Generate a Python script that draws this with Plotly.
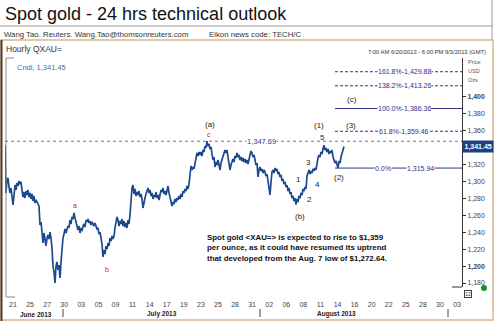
import plotly.graph_objects as go

# ---------------- data ----------------
# hourly spot gold, sampled along the chart (one value per sample step)
price = [
    1343.2, 1286.5, 1302.0, 1304.2, 1293.6, 1286.5, 1292.4, 1278.2, 1272.3, 1282.9,
    1295.9, 1290.0, 1298.3, 1294.7, 1300.7, 1297.1, 1299.5, 1290.0, 1281.7, 1287.6,
    1280.5, 1288.8, 1284.1, 1290.0, 1281.7, 1286.5, 1279.4, 1285.3, 1277.0, 1282.9,
    1274.6, 1278.2, 1275.8, 1273.4, 1271.1, 1248.6, 1252.2, 1240.3, 1227.3, 1239.2,
    1232.0, 1223.8, 1233.2, 1236.8, 1232.0, 1240.3, 1233.2, 1221.4, 1200.1, 1193.0,
    1180.0, 1200.1, 1204.9, 1195.4, 1201.3, 1185.9, 1204.9, 1222.6, 1233.2, 1237.9,
    1243.9, 1239.2, 1242.7, 1247.4, 1245.1, 1254.5, 1249.8, 1258.1, 1255.7, 1262.8,
    1256.9, 1252.2, 1249.8, 1242.7, 1247.4, 1239.2, 1245.1, 1241.5, 1247.4, 1249.8,
    1246.2, 1254.5, 1252.2, 1255.7, 1251.0, 1253.3, 1248.6, 1252.2, 1249.8, 1247.4,
    1251.0, 1246.2, 1243.9, 1245.1, 1237.9, 1240.3, 1232.0, 1226.0, 1210.8, 1219.0,
    1214.3, 1223.8, 1220.2, 1227.3, 1223.8, 1233.2, 1229.7, 1235.6, 1232.0, 1235.6,
    1245.1, 1252.2, 1258.1, 1254.5, 1247.4, 1253.3, 1249.8, 1255.7, 1247.4, 1253.3,
    1246.2, 1251.0, 1245.1, 1254.5, 1249.8, 1260.4, 1284.1, 1292.4, 1295.9, 1285.3,
    1291.2, 1282.9, 1287.6, 1284.1, 1288.8, 1281.7, 1285.3, 1279.4, 1268.7, 1277.0,
    1280.5, 1285.3, 1288.8, 1292.4, 1286.5, 1290.0, 1282.9, 1286.5, 1279.4, 1284.1,
    1281.7, 1287.6, 1280.5, 1284.1, 1278.2, 1285.3, 1290.0, 1287.6, 1292.4, 1285.3,
    1288.8, 1284.1, 1291.2, 1294.7, 1286.5, 1280.5, 1274.6, 1271.1, 1275.8, 1273.4,
    1279.4, 1275.8, 1280.5, 1278.2, 1282.9, 1279.4, 1285.3, 1281.7, 1288.8, 1286.5,
    1291.2, 1288.8, 1294.7, 1291.2, 1297.1, 1307.8, 1318.4, 1313.7, 1317.2, 1314.9,
    1323.1, 1327.9, 1333.8, 1330.2, 1335.0, 1331.4, 1335.0, 1330.2, 1337.3, 1335.0,
    1342.0, 1339.7, 1347.69, 1342.0, 1344.4, 1338.5, 1340.9, 1332.6, 1325.5, 1329.0,
    1317.2, 1323.1, 1319.6, 1325.5, 1318.4, 1313.7, 1321.9, 1325.5, 1330.2, 1335.0,
    1337.3, 1333.8, 1337.3, 1329.0, 1323.1, 1313.7, 1319.6, 1323.1, 1326.7, 1323.1,
    1330.2, 1327.9, 1333.8, 1329.0, 1331.4, 1325.5, 1329.0, 1324.3, 1327.9, 1323.1,
    1326.7, 1321.9, 1325.5, 1320.8, 1327.9, 1331.4, 1336.1, 1333.8, 1329.0, 1331.4,
    1325.5, 1319.6, 1321.9, 1305.4, 1313.7, 1317.2, 1312.5, 1314.9, 1310.1, 1313.7,
    1311.3, 1306.6, 1308.9, 1301.8, 1294.7, 1284.1, 1299.5, 1311.3, 1313.7, 1310.1,
    1316.0, 1312.5, 1314.9, 1308.9, 1311.3, 1305.4, 1307.8, 1300.7, 1303.0, 1297.1,
    1299.5, 1293.6, 1295.9, 1288.8, 1292.4, 1285.3, 1287.6, 1280.5, 1282.9, 1277.0,
    1280.5, 1272.64, 1279.4, 1275.8, 1282.9, 1280.5, 1286.5, 1284.1, 1291.2, 1288.8,
    1293.6, 1291.2, 1306.6, 1311.3, 1313.7, 1308.9, 1312.5, 1310.1, 1314.9, 1312.5,
    1316.0, 1313.7, 1321.9, 1327.9, 1331.4, 1329.0, 1335.0, 1332.6, 1338.5, 1343.1,
    1337.3, 1339.7, 1335.0, 1338.5, 1332.6, 1336.1, 1333.8, 1337.3, 1329.0, 1325.5,
    1321.9, 1324.3, 1319.6, 1315.94, 1324.3, 1321.9, 1329.0, 1333.8, 1337.3, 1341.45,
]
sample = list(range(len(price)))

tick_labels = ["21", "25", "27", "30", "03", "05", "09", "11", "14", "17", "19",
               "23", "25", "28", "31", "02", "06", "08", "11", "14", "16", "20",
               "22", "25", "28", "30", "03"]
month_labels = ["June 2013", "July 2013", "August 2013"]

y_ticks = [1180, 1200, 1220, 1240, 1260, 1280, 1300, 1320, 1360, 1380, 1400]
bold_ticks = [1200, 1400]

fib_names = ["161.8%", "138.2%", "100.0%", "61.8%", "0.0%"]
fib_levels = [1429.88, 1413.26, 1386.36, 1359.46, 1315.94]
fib_dashed = [True, True, False, True, False]

resist_level = 1347.69
last_price = 1341.45

wave_labels = ["(a)", "c", "a", "b", "(b)", "1", "2", "3", "4", "5", "(1)", "(2)", "(3)", "(c)"]

note = ("Spot gold &lt;XAU=&gt; is expected to rise to $1,359<br>"
        "per ounce, as it could have resumed its uptrend<br>"
        "that developed from the Aug. 7 low of $1,272.64.")

# ---------------- layout helpers (pixel -> paper) ----------------
W, H = 495, 321
L, R, T, B = 5, 462, 58, 287


def X(px):
    return (px - L) / (R - L)


def Y(py):
    return (B - py) / (B - T)


FONT = "Liberation Sans, Arial, sans-serif"
NAVY = "#2f2f8c"

fig = go.Figure()
fig.add_trace(go.Scatter(x=sample, y=price, mode="lines",
                         line=dict(color="#1d4a8c", width=1.7),
                         hoverinfo="skip"))

tickvals = [8 + 17.08 * k for k in range(len(tick_labels))]

fig.update_layout(
    width=W, height=H,
    margin=dict(l=L, r=W - R, t=T, b=H - B),
    paper_bgcolor="white", plot_bgcolor="white",
    showlegend=False,
    font=dict(family=FONT, color="#333"),
    xaxis=dict(range=[0, R - L], tickvals=tickvals, ticktext=tick_labels,
               showgrid=False, zeroline=False, showline=False, ticks="",
               tickfont=dict(size=7, color="#444"), ticklabelstandoff=12,
               fixedrange=True),
    yaxis=dict(range=[1175.3, 1446.1], side="right", tickvals=y_ticks,
               ticktext=[("<b>{:,}</b>" if v in bold_ticks else "{:,}").format(v) for v in y_ticks],
               showgrid=False, zeroline=False, showline=True, linecolor="#333",
               linewidth=1, ticks="outside", ticklen=3, tickcolor="#333",
               tickfont=dict(size=7, color="#444"), fixedrange=True),
)

shapes = []
ann = []


def pline(x0, y0, x1, y1, color, width=1, dash="solid"):
    shapes.append(dict(type="line", xref="paper", yref="paper",
                       x0=X(x0), y0=Y(y0), x1=X(x1), y1=Y(y1),
                       line=dict(color=color, width=width, dash=dash)))


def ptext(text, px, py, size, color="#333", xanchor="center", bold=False, **kw):
    ann.append(dict(text=("<b>%s</b>" % text) if bold else text,
                    x=X(px), y=Y(py), xref="paper", yref="paper",
                    xanchor=xanchor, yanchor="middle", showarrow=False,
                    font=dict(size=size, color=color, family=FONT), **kw))


# frames
pline(0, 26, 493, 26, "#9a9a9a", 1)
pline(492, 0, 492, 40, "#9a9a9a", 1)
shapes.append(dict(type="rect", xref="paper", yref="paper",
                   x0=X(1), y0=Y(40), x1=X(493), y1=Y(320),
                   line=dict(color="#d6b88e", width=1.5)))
pline(1.5, 40, 1.5, 321, "#4d3b2a", 2)
pline(6, 58, 6, 297, "#8a8a8a", 1)
pline(6, 58, 14, 58, "#8a8a8a", 1)
pline(6, 297, 15, 297, "#8a8a8a", 1)
pline(452, 287, 462, 287, "#333", 1)

# month separators
for sx in [63, 260, 448]:
    pline(sx, 309, sx, 317, "#444", 1)

# green status dot
shapes.append(dict(type="circle", xref="paper", yref="paper",
                   x0=X(481), y0=Y(285), x1=X(487), y1=Y(291),
                   fillcolor="#1a8f2e", line=dict(color="#1a8f2e", width=0)))

# resistance dotted line
shapes.append(dict(type="line", xref="x", yref="y", x0=0, x1=R - L,
                   y0=resist_level, y1=resist_level,
                   line=dict(color="#6a6aa8", width=1, dash="dot")))
ann.append(dict(text="{:,.2f}".format(resist_level), x=X(261), y=resist_level,
                xref="paper", yref="y", xanchor="center", showarrow=False,
                bgcolor="white", font=dict(size=7.5, color="#3636a0", family=FONT),
                borderpad=0))

# fibonacci levels
for name, lvl, dashed in zip(fib_names, fib_levels, fib_dashed):
    shapes.append(dict(type="line", xref="x", yref="y", x0=330, x1=R - L,
                       y0=lvl, y1=lvl,
                       line=dict(color="#34348a", width=1,
                                 dash="3px,2px" if dashed else "solid")))
    if name == "0.0%":
        ann.append(dict(text=name, x=X(383), y=lvl, xref="paper", yref="y",
                        xanchor="center", showarrow=False, bgcolor="white", borderpad=0,
                        font=dict(size=7, color=NAVY, family=FONT)))
        ann.append(dict(text="{:,.2f}".format(lvl), x=X(420), y=lvl, xref="paper",
                        yref="y", xanchor="center", showarrow=False, bgcolor="white",
                        borderpad=0, font=dict(size=7, color=NAVY, family=FONT)))
    else:
        ann.append(dict(text="%s-%s" % (name, "{:,.2f}".format(lvl)), x=X(404), y=lvl,
                        xref="paper", yref="y", xanchor="center", showarrow=False,
                        bgcolor="white", borderpad=0,
                        font=dict(size=7, color=NAVY, family=FONT)))

# last price box
ann.append(dict(text="<b>{:,.2f}</b>".format(last_price), x=X(462), y=last_price,
                xref="paper", yref="y", xanchor="left", showarrow=False,
                bgcolor="#1f3f7f", borderpad=1.5,
                font=dict(size=7, color="white", family=FONT)))

# wave labels
wave_pos = [(210, 124), (209, 134), (75, 205), (107, 269), (300, 216), (298, 179),
            (309, 199), (308, 162), (317, 184), (322, 137), (319, 125), (339, 177),
            (351, 125), (352, 99)]
for lab, (wx, wy) in zip(wave_labels, wave_pos):
    red = lab in ("a", "b", "c")
    ptext(lab, wx, wy, 7 if red else 8, "#d42020" if red else "#222")

# header texts
ptext("Spot gold - 24 hrs technical outlook", 3, 14, 18, "#111", "left")
ptext("Wang Tao. Reuters. Wang.Tao@thomsonreuters.com", 2, 34, 7.8, "#333", "left")
ptext("Eikon news code: TECH/C", 207, 34, 7.8, "#333", "left")
ptext("Hourly QXAU=", 4, 49, 8.5, "#333", "left")
ptext("7:00 AM 6/20/2013 - 6:00 PM 9/3/2013 (GMT)", 488, 52, 5.8, "#333", "right")
ptext("Cndl, {:,.2f}".format(last_price), 15, 67, 7.5, "#4a6ea8", "left")
ptext("Price", 466, 62, 5.5, "#555", "left")
ptext("USD", 466, 71, 5.5, "#555", "left")
ptext("Ozs", 466, 80, 5.5, "#555", "left")
ptext("12", 468, 293.5, 5.5, "#444", "center", bordercolor="#444", borderwidth=1, borderpad=0)

# month labels
for m, mx in zip(month_labels, [36, 162, 336]):
    ptext(m, mx, 314, 6.5, "#222", "center", bold=True)

# note
ann.append(dict(text="<b>%s</b>" % note, x=X(205), y=Y(248), xref="paper", yref="paper",
                xanchor="left", yanchor="middle", align="left", showarrow=False,
                font=dict(size=7.9, color="#111", family=FONT)))

fig.update_layout(shapes=shapes, annotations=ann)
fig.write_html("out.html")
